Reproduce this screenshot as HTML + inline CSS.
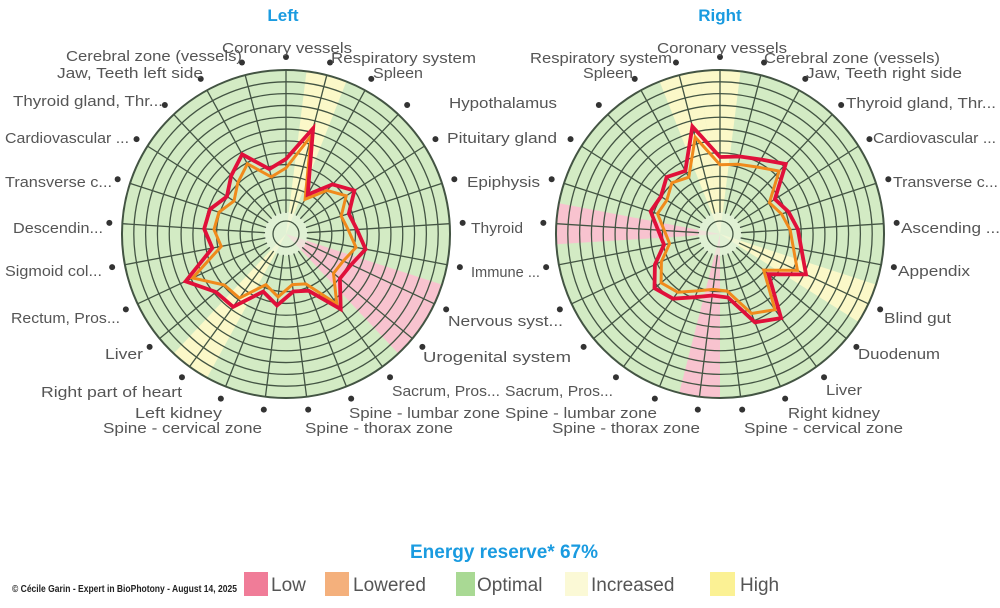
<!DOCTYPE html>
<html><head><meta charset="utf-8"><style>
html,body{margin:0;padding:0;background:#fff;width:1000px;height:608px;overflow:hidden}
svg{display:block}
text{font-family:"Liberation Sans",sans-serif;fill:#555;font-size:15px}
.t{fill:#1a9be0;font-weight:bold;font-size:17px}
</style></head><body>
<svg id="s" width="1000" height="608" viewBox="0 0 1000 608">
<g id="charts"></g>
<text class="t" x="283" y="21" text-anchor="middle">Left</text>
<text class="t" x="720" y="21" text-anchor="middle">Right</text>
<g>
<text x="222" y="53" textLength="130" lengthAdjust="spacingAndGlyphs">Coronary vessels</text>
<text x="331" y="63" textLength="145" lengthAdjust="spacingAndGlyphs">Respiratory system</text>
<text x="373" y="78" textLength="50" lengthAdjust="spacingAndGlyphs">Spleen</text>
<text x="449" y="108" textLength="108" lengthAdjust="spacingAndGlyphs">Hypothalamus</text>
<text x="447" y="143" textLength="110" lengthAdjust="spacingAndGlyphs">Pituitary gland</text>
<text x="467" y="187" textLength="73" lengthAdjust="spacingAndGlyphs">Epiphysis</text>
<text x="471" y="233" textLength="52" lengthAdjust="spacingAndGlyphs">Thyroid</text>
<text x="471" y="277" textLength="69" lengthAdjust="spacingAndGlyphs">Immune ...</text>
<text x="448" y="326" textLength="115" lengthAdjust="spacingAndGlyphs">Nervous syst...</text>
<text x="423" y="362" textLength="148" lengthAdjust="spacingAndGlyphs">Urogenital system</text>
<text x="392" y="396" textLength="108" lengthAdjust="spacingAndGlyphs">Sacrum, Pros...</text>
<text x="349" y="418" textLength="151" lengthAdjust="spacingAndGlyphs">Spine - lumbar zone</text>
<text x="305" y="433" textLength="148" lengthAdjust="spacingAndGlyphs">Spine - thorax zone</text>
<text x="103" y="433" textLength="159" lengthAdjust="spacingAndGlyphs">Spine - cervical zone</text>
<text x="135" y="418" textLength="87" lengthAdjust="spacingAndGlyphs">Left kidney</text>
<text x="41" y="397" textLength="141" lengthAdjust="spacingAndGlyphs">Right part of heart</text>
<text x="105" y="359" textLength="38" lengthAdjust="spacingAndGlyphs">Liver</text>
<text x="11" y="323" textLength="109" lengthAdjust="spacingAndGlyphs">Rectum, Pros...</text>
<text x="5" y="276" textLength="97" lengthAdjust="spacingAndGlyphs">Sigmoid col...</text>
<text x="13" y="233" textLength="90" lengthAdjust="spacingAndGlyphs">Descendin...</text>
<text x="5" y="187" textLength="107" lengthAdjust="spacingAndGlyphs">Transverse c...</text>
<text x="5" y="143" textLength="124" lengthAdjust="spacingAndGlyphs">Cardiovascular ...</text>
<text x="13" y="106" textLength="150" lengthAdjust="spacingAndGlyphs">Thyroid gland, Thr...</text>
<text x="57" y="78" textLength="146" lengthAdjust="spacingAndGlyphs">Jaw, Teeth left side</text>
<text x="66" y="61" textLength="176" lengthAdjust="spacingAndGlyphs">Cerebral zone (vessels)</text>
</g>
<g>
<text x="657" y="53" textLength="130" lengthAdjust="spacingAndGlyphs">Coronary vessels</text>
<text x="764" y="63" textLength="176" lengthAdjust="spacingAndGlyphs">Cerebral zone (vessels)</text>
<text x="806" y="78" textLength="156" lengthAdjust="spacingAndGlyphs">Jaw, Teeth right side</text>
<text x="846" y="108" textLength="150" lengthAdjust="spacingAndGlyphs">Thyroid gland, Thr...</text>
<text x="873" y="143" textLength="123" lengthAdjust="spacingAndGlyphs">Cardiovascular ...</text>
<text x="893" y="187" textLength="105" lengthAdjust="spacingAndGlyphs">Transverse c...</text>
<text x="901" y="233" textLength="99" lengthAdjust="spacingAndGlyphs">Ascending ...</text>
<text x="898" y="276" textLength="72" lengthAdjust="spacingAndGlyphs">Appendix</text>
<text x="884" y="323" textLength="67" lengthAdjust="spacingAndGlyphs">Blind gut</text>
<text x="858" y="359" textLength="82" lengthAdjust="spacingAndGlyphs">Duodenum</text>
<text x="826" y="395" textLength="36" lengthAdjust="spacingAndGlyphs">Liver</text>
<text x="788" y="418" textLength="92" lengthAdjust="spacingAndGlyphs">Right kidney</text>
<text x="744" y="433" textLength="159" lengthAdjust="spacingAndGlyphs">Spine - cervical zone</text>
<text x="552" y="433" textLength="148" lengthAdjust="spacingAndGlyphs">Spine - thorax zone</text>
<text x="505" y="418" textLength="152" lengthAdjust="spacingAndGlyphs">Spine - lumbar zone</text>
<text x="505" y="396" textLength="108" lengthAdjust="spacingAndGlyphs">Sacrum, Pros...</text>
<text x="530" y="63" textLength="142" lengthAdjust="spacingAndGlyphs">Respiratory system</text>
<text x="583" y="78" textLength="50" lengthAdjust="spacingAndGlyphs">Spleen</text>
</g>
<text x="504" y="558" text-anchor="middle" style="fill:#1a9be0;font-weight:bold;font-size:19px">Energy reserve* 67%</text>
<text x="12" y="592" textLength="225" lengthAdjust="spacingAndGlyphs" style="fill:#222;font-weight:bold;font-size:10px">© Cécile Garin - Expert in BioPhotony - August 14, 2025</text>
<g>
<rect x="244" y="572" width="24" height="24" fill="#f07c98"/><text x="271" y="591" style="font-size:19px">Low</text>
<rect x="325" y="572" width="24" height="24" fill="#f4b07c"/><text x="353" y="591" style="font-size:19px">Lowered</text>
<rect x="456" y="572" width="19" height="24" fill="#a9d994"/><text x="477" y="591" style="font-size:19px">Optimal</text>
<rect x="565" y="572" width="23" height="24" fill="#fbf9d6"/><text x="591" y="591" style="font-size:19px">Increased</text>
<rect x="710" y="572" width="25" height="24" fill="#fbf194"/><text x="740" y="591" style="font-size:19px">High</text>
</g>
</svg>
<script>
(function(){
var NS="http://www.w3.org/2000/svg",g=document.getElementById("charts");
function el(n,a){var e=document.createElementNS(NS,n);for(var k in a)e.setAttribute(k,a[k]);g.appendChild(e);return e;}
var N=25,st=360/N,R=164;
function pt(cx,cy,deg,r){var a=deg*Math.PI/180;return [cx+r*Math.sin(a),cy-r*Math.cos(a)];}
function wedge(cx,cy,a0,a1,col){var p=pt(cx,cy,a0,R),q=pt(cx,cy,a1,R);
 el("path",{d:"M"+cx+","+cy+"L"+p[0]+","+p[1]+"A"+R+","+R+" 0 0 1 "+q[0]+","+q[1]+"Z",fill:col});}
function chart(cx,cy,wedges,red,org){
 el("circle",{cx:cx,cy:cy,r:R,fill:"#d3ebc4"});
 wedges.forEach(function(w){var c=w[0]*st;wedge(cx,cy,c-st/2,c+st/2,w[1]);});
 el("circle",{cx:cx,cy:cy,r:22,fill:"#e9f5df",opacity:0.6});
 for(var k=0;k<=11;k++){el("circle",{cx:cx,cy:cy,r:34+k*11.82,fill:"none",stroke:"#435443","stroke-width":k==11?2:1.3});}
 el("circle",{cx:cx,cy:cy,r:13,fill:"none",stroke:"#435443","stroke-width":1.3});
 for(var i=0;i<N;i++){var a=i*st,p=pt(cx,cy,a,21),q=pt(cx,cy,a,R),d=pt(cx,cy,a,177);
  el("line",{x1:p[0],y1:p[1],x2:q[0],y2:q[1],stroke:"#435443","stroke-width":1.3});
  el("circle",{cx:d[0],cy:d[1],r:3,fill:"#333"});}
 function poly(v,c,w){var s=[];for(var i=0;i<N;i++){var p=pt(cx,cy,i*st,v[i]);s.push(p[0].toFixed(1)+","+p[1].toFixed(1));}
  el("polygon",{points:s.join(" "),fill:"none",stroke:c,"stroke-width":w,"stroke-linejoin":"miter"});}
 poly(org,"#f08a1c",3);poly(red,"#e0103a",3.8);
}
var lr=[75,109,45,68,81,66,71,81,72,70,93,61,58,72,62,90,91,111,75,82,80,70,80,91,67];
var lo=lr.map(function(v,i){return v*([1,17,10].indexOf(i)>=0?0.93:0.88);});
var rr=[77,80,85,96,65,72,78,83,95,63,104,95,64,62,68,80,85,72,57,62,73,70,78,72,111];
var ro=rr.map(function(v){return v*0.9;});
chart(286,234,[[1,"#fbf8c8"],[8,"#f8c3cf"],[9,"#f8c3cf"],[15,"#fbf8c8"]],lr,lo);
chart(720,234,[[0,"#fbf8c8"],[24,"#fbf8c8"],[8,"#fbf8c8"],[19,"#f8c3cf"],[13,"#f8c3cf"]],rr,ro);
})();
</script>
</body></html>
